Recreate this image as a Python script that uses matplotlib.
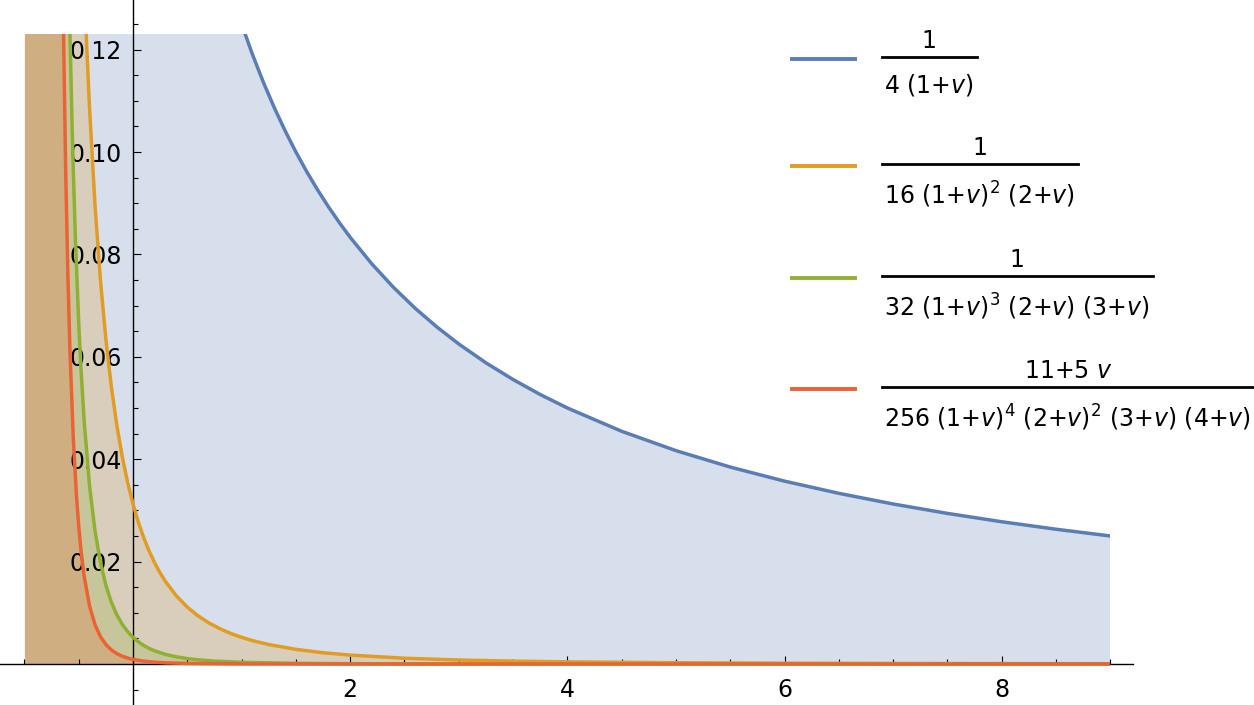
import matplotlib.pyplot as plt
import numpy as np
from matplotlib.patches import Rectangle
from matplotlib.lines import Line2D

# Curve values (points above the plot range are off-scale)
blue_x = [-0.995, 0.0, 0.5, 1.0, 1.1, 1.2, 1.3, 1.4, 1.5, 1.6, 1.7, 1.8, 1.9, 2.0, 2.2, 2.4,
          2.6, 2.8, 3.0, 3.25, 3.5, 3.75, 4.0, 4.5, 5.0, 5.5, 6.0, 6.5, 7.0, 7.5, 8.0, 8.5, 9.0]
blue_y = [50.0, 0.25, 0.1667, 0.125, 0.11905, 0.11364, 0.1087, 0.10417, 0.1, 0.09615,
          0.09259, 0.08929, 0.08621, 0.08333, 0.07813, 0.07353, 0.06944, 0.06579, 0.0625,
          0.05882, 0.05556, 0.05263, 0.05, 0.04545, 0.04167, 0.03846, 0.03571, 0.03333,
          0.03125, 0.02941, 0.02778, 0.02632, 0.025]

orange_x = [-0.995, -0.9, -0.7, -0.6, -0.5, -0.45, -0.425, -0.4, -0.35, -0.3, -0.25, -0.2,
            -0.15, -0.1, -0.05, 0.0, 0.05, 0.1, 0.15, 0.2, 0.25, 0.3, 0.4, 0.5, 0.6, 0.7,
            0.8, 0.9, 1.0, 1.1, 1.25, 1.5, 1.75, 2.0, 2.5, 3.0, 3.5, 4.0, 5.0, 6.0, 7.0,
            8.0, 9.0]
orange_y = [2488.0, 5.68, 0.534, 0.279, 0.16667, 0.13329, 0.12002, 0.10851, 0.08965,
            0.07503, 0.06349, 0.05425, 0.04676, 0.04061, 0.03551, 0.03125, 0.02765,
            0.0246, 0.02198, 0.01973, 0.01778, 0.01608, 0.01329, 0.01111, 0.00939,
            0.00801, 0.00689, 0.00597, 0.00521, 0.00457, 0.0038, 0.00286, 0.0022,
            0.00174, 0.00113, 0.00078, 0.00056, 0.00042, 0.00025, 0.00016, 0.00011,
            0.00008, 0.00006]

green_x = [-0.995, -0.9, -0.7, -0.65, -0.6, -0.58, -0.56, -0.55, -0.53, -0.5, -0.48, -0.45,
           -0.4, -0.35, -0.3, -0.25, -0.2, -0.15, -0.1, -0.05, 0.0, 0.05, 0.1, 0.15, 0.2,
           0.3, 0.4, 0.5, 0.6, 0.75, 1.0, 1.5, 2.0, 3.0, 4.0, 5.0, 9.0]
green_y = [5000.0, 13.5, 0.387, 0.2297, 0.1453, 0.12274, 0.10441, 0.09653, 0.0829,
           0.06667, 0.05802, 0.04752, 0.03478, 0.02602, 0.01985, 0.01539, 0.01211,
           0.00965, 0.00778, 0.00634, 0.00521, 0.00432, 0.00361, 0.00303, 0.00257,
           0.00187, 0.0014, 0.00106, 0.00082, 0.00057, 0.00033, 0.00013, 0.00006,
           0.00002, 0.000006, 0.000003, 0.0]

red_x = [-0.995, -0.9, -0.7, -0.65, -0.64, -0.62, -0.6, -0.58, -0.55, -0.52, -0.5, -0.48,
         -0.45, -0.4, -0.35, -0.3, -0.25, -0.2, -0.15, -0.1, -0.05, 0.0, 0.1, 0.2, 0.3,
         0.5, 1.0, 2.0, 9.0]
red_y = [9000.0, 32.2, 0.282, 0.1406, 0.1237, 0.09661, 0.07632, 0.06093, 0.04422,
         0.0327, 0.02698, 0.02242, 0.01717, 0.01132, 0.00769, 0.00535, 0.00381,
         0.00277, 0.00204, 0.00153, 0.00116, 0.0009, 0.00055, 0.00035, 0.00023,
         0.00011, 0.00002, 0.0, 0.0]

series_x = [blue_x, orange_x, green_x, red_x]
series_y = [blue_y, orange_y, green_y, red_y]
colors = ['#5a7db4', '#e19c24', '#8fb032', '#eb6235']

numerators = ['1', '1', '1', r'11+5 $v$']
denominators = [r'4 (1+$v$)',
                r'16 (1+$v)^{2}$ (2+$v$)',
                r'32 (1+$v)^{3}$ (2+$v$) (3+$v$)',
                r'256 (1+$v)^{4}$ (2+$v)^{2}$ (3+$v$) (4+$v$)']

y_top = 0.123  # plot range cut-off

x_major = [2, 4, 6, 8]
y_major = [0.02, 0.04, 0.06, 0.08, 0.10, 0.12]

plt.rcParams['font.family'] = ['DejaVu Sans']
plt.rcParams['mathtext.fontset'] = 'dejavusans'

W, H = 1254, 705
fig = plt.figure(figsize=(W / 100, H / 100), dpi=100)
ax = fig.add_axes([0, 0, 1133 / W, 1])
ax.set_xlim(-133 / 108.6, 1000 / 108.6)
ax.set_ylim(-41 / 102.4 * 0.02, 664 / 102.4 * 0.02)

clip = Rectangle((-1.0, -0.01), 10.0, 0.01 + y_top, transform=ax.transData)

for xs, ys, c in zip(series_x, series_y, colors):
    f = ax.fill_between(xs, 0, ys, color=c, alpha=0.24, linewidth=0, zorder=1)
    f.set_clip_path(clip)
for xs, ys, c in zip(series_x, series_y, colors):
    ln, = ax.plot(xs, ys, color=c, linewidth=2.5, zorder=3, solid_joinstyle='round')
    ln.set_clip_path(clip)

for s in ['top', 'right']:
    ax.spines[s].set_visible(False)
ax.spines['left'].set_position(('data', 0))
ax.spines['bottom'].set_position(('data', 0))
for s in ['left', 'bottom']:
    ax.spines[s].set_linewidth(1.0)
    ax.spines[s].set_zorder(2)

ax.set_xticks(x_major)
ax.set_xticks([v for v in np.arange(-1, 9.01, 0.5) if v != 0 and v not in x_major], minor=True)
ax.set_yticks(y_major)
ax.set_yticklabels(['%.2f' % v for v in y_major])
ax.set_yticks([v for v in np.arange(-0.005, 0.1251, 0.005)
               if abs(v) > 1e-9 and min(abs(v - m) for m in y_major) > 1e-9], minor=True)
ax.tick_params(which='both', direction='in', width=0.8, labelsize=17, colors='black')
ax.tick_params(which='major', length=6)
ax.tick_params(which='minor', length=3.5)
ax.tick_params(axis='x', pad=10)
ax.tick_params(axis='y', pad=8)
ax.patch.set_visible(False)

# legend drawn by hand as stacked fractions
def px(x, y):
    return x / W, 1 - y / H

bar_y = [57, 164, 276, 387]
den_off = [36, 40, 40, 40]
renderer = fig.canvas.get_renderer()
for i in range(4):
    fig.add_artist(Line2D([792 / W, 855 / W], [1 - (bar_y[i] + 2) / H] * 2,
                          color=colors[i], linewidth=2.8))
    tx, ty = px(884, bar_y[i] + den_off[i])
    d = fig.text(tx, ty, denominators[i], fontsize=17, ha='left', va='baseline')
    ext = d.get_window_extent(renderer)
    x1 = ext.x1 + 3
    fig.add_artist(Line2D([882 / W, x1 / W], [1 - bar_y[i] / H] * 2,
                          color='black', linewidth=2.0))
    nx = (882 + x1) / 2 / W
    fig.text(nx, 1 - (bar_y[i] - 9) / H, numerators[i], fontsize=17,
             ha='center', va='baseline')

fig.savefig('out.png', dpi=100)
